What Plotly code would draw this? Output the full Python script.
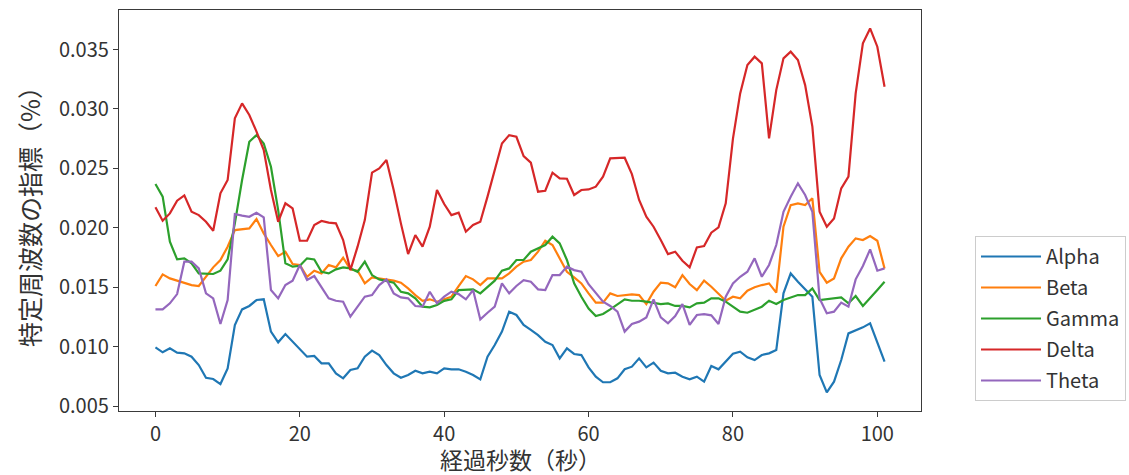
import plotly.graph_objects as go

seconds = list(range(102))

alpha = [0.00994, 0.00952, 0.00985, 0.00949, 0.00943, 0.00915, 0.00845, 0.00738, 0.00727, 0.00685,
         0.00817, 0.01182, 0.01313, 0.01342, 0.01392, 0.01398, 0.01126, 0.01036, 0.01106, 0.01041,
         0.00975, 0.00915, 0.00921, 0.00859, 0.00859, 0.00775, 0.00733, 0.00803, 0.00817, 0.00915,
         0.00966, 0.00929, 0.00845, 0.00775, 0.00738, 0.00761, 0.00797, 0.00775, 0.00789, 0.00775,
         0.00817, 0.00809, 0.00809, 0.00789, 0.00761, 0.00724, 0.00915, 0.01013, 0.01126, 0.01294,
         0.01266, 0.01182, 0.01140, 0.01097, 0.01041, 0.01013, 0.00901, 0.00985, 0.00938, 0.00929,
         0.00825, 0.00747, 0.00700, 0.00700, 0.00733, 0.00809, 0.00831, 0.00901, 0.00825, 0.00865,
         0.00797, 0.00775, 0.00780, 0.00747, 0.00724, 0.00747, 0.00705, 0.00837, 0.00809, 0.00873,
         0.00940, 0.00957, 0.00910, 0.00887, 0.00929, 0.00943, 0.00971, 0.01448, 0.01616, 0.01546,
         0.01482, 0.01420, 0.00761, 0.00615, 0.00705, 0.00887, 0.01111, 0.01134, 0.01162, 0.01196,
         0.01027, 0.00873]

beta = [0.01510, 0.01608, 0.01574, 0.01555, 0.01532, 0.01518, 0.01510, 0.01588, 0.01667, 0.01729,
        0.01841, 0.01981, 0.01989, 0.01995, 0.02074, 0.01953, 0.01855, 0.01762, 0.01799, 0.01695,
        0.01687, 0.01588, 0.01639, 0.01616, 0.01687, 0.01667, 0.01748, 0.01650, 0.01639, 0.01532,
        0.01583, 0.01574, 0.01560, 0.01555, 0.01538, 0.01490, 0.01434, 0.01386, 0.01398, 0.01378,
        0.01398, 0.01420, 0.01510, 0.01594, 0.01566, 0.01518, 0.01574, 0.01574, 0.01574, 0.01616,
        0.01673, 0.01715, 0.01729, 0.01799, 0.01891, 0.01855, 0.01743, 0.01630, 0.01583, 0.01532,
        0.01448, 0.01370, 0.01370, 0.01448, 0.01426, 0.01434, 0.01440, 0.01434, 0.01358, 0.01462,
        0.01538, 0.01532, 0.01499, 0.01602, 0.01527, 0.01476, 0.01555, 0.01504, 0.01442, 0.01386,
        0.01420, 0.01406, 0.01471, 0.01499, 0.01518, 0.01532, 0.01454, 0.02009, 0.02191, 0.02205,
        0.02191, 0.02248, 0.01630, 0.01538, 0.01574, 0.01743, 0.01841, 0.01911, 0.01897, 0.01931,
        0.01891, 0.01658]

gamma = [0.02368, 0.02262, 0.01883, 0.01734, 0.01743, 0.01701, 0.01616, 0.01616, 0.01611, 0.01639,
         0.01734, 0.02037, 0.02402, 0.02724, 0.02780, 0.02710, 0.02514, 0.02149, 0.01701, 0.01673,
         0.01680, 0.01743, 0.01734, 0.01630, 0.01616, 0.01650, 0.01667, 0.01658, 0.01630, 0.01715,
         0.01602, 0.01566, 0.01555, 0.01538, 0.01462, 0.01448, 0.01406, 0.01336, 0.01330, 0.01350,
         0.01385, 0.01398, 0.01476, 0.01482, 0.01482, 0.01448, 0.01504, 0.01555, 0.01639, 0.01658,
         0.01729, 0.01729, 0.01799, 0.01827, 0.01855, 0.01925, 0.01869, 0.01729, 0.01532, 0.01420,
         0.01320, 0.01257, 0.01274, 0.01313, 0.01358, 0.01398, 0.01386, 0.01386, 0.01378, 0.01370,
         0.01358, 0.01364, 0.01342, 0.01342, 0.01330, 0.01364, 0.01370, 0.01406, 0.01406, 0.01378,
         0.01336, 0.01294, 0.01285, 0.01308, 0.01336, 0.01386, 0.01358, 0.01392, 0.01414, 0.01434,
         0.01434, 0.01490, 0.01392, 0.01398, 0.01406, 0.01414, 0.01364, 0.01426, 0.01342, 0.01406,
         0.01476, 0.01546]

delta = [0.02172, 0.02060, 0.02121, 0.02228, 0.02273, 0.02135, 0.02107, 0.02051, 0.01975, 0.02290,
         0.02402, 0.02921, 0.03047, 0.02949, 0.02809, 0.02654, 0.02318, 0.02051, 0.02206, 0.02163,
         0.01891, 0.01891, 0.02023, 0.02057, 0.02043, 0.02037, 0.01897, 0.01644, 0.01841, 0.02065,
         0.02464, 0.02500, 0.02570, 0.02318, 0.02037, 0.01779, 0.01939, 0.01841, 0.02009, 0.02318,
         0.02200, 0.02107, 0.02127, 0.01967, 0.02023, 0.02051, 0.02262, 0.02486, 0.02710, 0.02780,
         0.02766, 0.02604, 0.02548, 0.02304, 0.02312, 0.02464, 0.02416, 0.02413, 0.02276, 0.02318,
         0.02323, 0.02346, 0.02430, 0.02584, 0.02584, 0.02590, 0.02452, 0.02234, 0.02093, 0.02009,
         0.01897, 0.01779, 0.01799, 0.01723, 0.01667, 0.01835, 0.01846, 0.01959, 0.02003, 0.02206,
         0.02750, 0.03131, 0.03370, 0.03440, 0.03384, 0.02752, 0.03159, 0.03426, 0.03482, 0.03412,
         0.03201, 0.02851, 0.02136, 0.02009, 0.02079, 0.02332, 0.02430, 0.03131, 0.03552, 0.03678,
         0.03524, 0.03187]

theta = [0.01313, 0.01313, 0.01364, 0.01442, 0.01715, 0.01715, 0.01658, 0.01448, 0.01406, 0.01190,
         0.01392, 0.02116, 0.02102, 0.02093, 0.02127, 0.02088, 0.01476, 0.01406, 0.01518, 0.01555,
         0.01687, 0.01560, 0.01594, 0.01504, 0.01406, 0.01386, 0.01378, 0.01252, 0.01336, 0.01420,
         0.01434, 0.01518, 0.01566, 0.01448, 0.01414, 0.01406, 0.01342, 0.01336, 0.01462, 0.01364,
         0.01420, 0.01462, 0.01442, 0.01398, 0.01476, 0.01229, 0.01285, 0.01336, 0.01532, 0.01448,
         0.01510, 0.01560, 0.01546, 0.01482, 0.01476, 0.01602, 0.01602, 0.01673, 0.01644, 0.01630,
         0.01525, 0.01448, 0.01378, 0.01342, 0.01294, 0.01126, 0.01190, 0.01210, 0.01246, 0.01398,
         0.01246, 0.01196, 0.01257, 0.01358, 0.01182, 0.01266, 0.01274, 0.01263, 0.01190, 0.01420,
         0.01532, 0.01588, 0.01630, 0.01743, 0.01588, 0.01687, 0.01855, 0.02135, 0.02262, 0.02374,
         0.02276, 0.02135, 0.01406, 0.01280, 0.01294, 0.01370, 0.01336, 0.01566, 0.01678, 0.01818,
         0.01639, 0.01658]

series_names = ["Alpha", "Beta", "Gamma", "Delta", "Theta"]
series_values = [alpha, beta, gamma, delta, theta]
colors = ["#1f77b4", "#ff7f0e", "#2ca02c", "#d62728", "#9467bd"]

x_ticks = [0, 20, 40, 60, 80, 100]
y_ticks = [0.005, 0.010, 0.015, 0.020, 0.025, 0.030, 0.035]
x_title = "経過秒数（秒）"
y_title = "特定周波数の指標（%）"

FONT = "Noto Sans CJK JP, Noto Sans, DejaVu Sans, sans-serif"
TXT = "#333333"
W, H = 1129, 475
ML, MR, MT, MB = 119, 208, 10, 64
plot_h = H - MT - MB

fig = go.Figure()
for name, vals, col in zip(series_names, series_values, colors):
    fig.add_trace(go.Scatter(x=seconds, y=vals, mode="lines", name=name, legendgroup=name,
                             line=dict(color=col, width=2.2)))

axis_common = dict(showline=True, mirror=True, linecolor="#3a3a3a", linewidth=1.3,
                   ticks="outside", ticklen=5, tickwidth=1.2, tickcolor="#3a3a3a",
                   showgrid=False, zeroline=False, automargin=False,
                   tickfont=dict(family=FONT, size=20, color=TXT))

fig.update_layout(
    width=W, height=H, autosize=False,
    margin=dict(l=ML, r=MR, t=MT, b=MB, autoexpand=False),
    paper_bgcolor="white", plot_bgcolor="white",
    font=dict(family=FONT, size=20, color=TXT),
    xaxis=dict(range=[-5.05, 106.05], tickvals=x_ticks, **axis_common),
    yaxis=dict(range=[0.00458, 0.03833], tickvals=y_ticks, tickformat=".3f",
               title=dict(text=y_title, font=dict(family=FONT, size=25, color=TXT), standoff=11),
               **axis_common),
    legend=dict(xref="container", yref="container",
                x=975 / W, y=(H - 236) / H, xanchor="left", yanchor="top",
                bordercolor="#cccccc", borderwidth=1, bgcolor="white",
                traceorder="grouped", tracegroupgap=2, itemwidth=60,
                font=dict(family=FONT, size=20, color=TXT)),
)

# x-axis title placed as a paper-anchored label just below the tick labels
fig.add_annotation(text=x_title, xref="paper", yref="paper", x=0.5,
                   y=-(459 - (H - MB)) / plot_h, xanchor="center", yanchor="middle",
                   showarrow=False, font=dict(family=FONT, size=23, color=TXT))

fig.write_html("out.html", config={"displayModeBar": False},
               post_script="document.body.style.margin='0';document.body.style.padding='0';")
